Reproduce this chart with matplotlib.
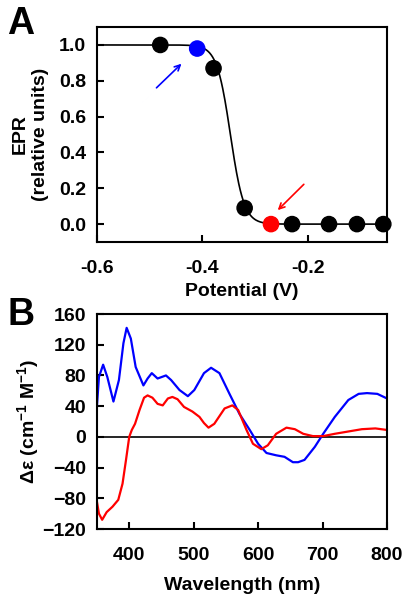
import numpy as np
import matplotlib
matplotlib.use("Agg")
import matplotlib.pyplot as plt

plt.rcParams['font.family'] = ['Liberation Sans', 'DejaVu Sans']
plt.rcParams['font.weight'] = 'bold'
plt.rcParams['mathtext.fontset'] = 'custom'
plt.rcParams['mathtext.rm'] = 'Liberation Sans:bold'
plt.rcParams['mathtext.bf'] = 'Liberation Sans:bold'
plt.rcParams['mathtext.default'] = 'bf'

# ---- panel A: EPR redox titration ----
potential = [-0.48, -0.41, -0.379, -0.32, -0.27, -0.23, -0.16, -0.107, -0.057]
epr = [1.0, 0.98, 0.87, 0.09, 0.0, 0.0, 0.0, 0.0, 0.0]
point_colors = ['black', 'blue', 'black', 'black', 'red', 'black', 'black', 'black', 'black']

# Nernst fit parameters
E0 = -0.347
n_el = 2

# ---- panel B: CD spectra ----
wl_blue = [350, 353, 359.5, 366, 375.5, 384, 391, 396, 402.5, 410, 422, 428.5, 435, 444,
           457, 465, 478, 491, 501, 516, 527, 540, 555.6, 571, 587, 600, 613, 628, 641,
           654, 662, 672, 688, 701, 719, 740, 756, 769, 785, 800]
cd_blue = [41, 78, 94, 78, 46, 74, 122, 142, 128, 91, 67, 76, 83, 76,
           80, 74, 61, 53, 61, 83, 90, 83, 56, 30, 9, -9, -21, -24, -26,
           -33, -33, -30, -13, 4, 26, 48, 56, 57, 56, 50]

wl_red = [350, 353, 358, 365, 374, 383, 389.6, 395, 400, 404, 409, 416, 423, 428.5, 436,
          444, 452, 460, 467, 475, 485, 498, 509, 516, 523, 532, 548, 560, 569, 582,
          592, 605, 615, 628, 644, 657, 670, 685, 701, 719, 740, 761, 782, 800]
cd_red = [-85, -100, -108, -98, -91, -82, -61, -30, 0, 9, 17, 35, 51, 54, 51,
          43, 41, 50, 52, 49, 39, 33, 26, 18, 12, 17, 37, 41, 35, 9,
          -9, -16, -11, 4, 12, 10, 4, 1, 1, 4, 7, 10, 11, 9]

fig = plt.figure(figsize=(4.1, 6.01), dpi=100)

axA = fig.add_axes([0.2366, 0.5973, 0.7073, 0.3577])
E = np.linspace(-0.6, -0.05, 400)
fit = 1.0 / (1.0 + np.exp((E - E0) * n_el / 0.0257))
axA.plot(E, fit, color='black', lw=1.2, zorder=2)
axA.scatter(potential, epr, c=point_colors, s=120, zorder=3, clip_on=False)
axA.annotate('', xy=(-0.436, 0.906), xytext=(-0.491, 0.75),
             arrowprops=dict(arrowstyle='->', color='blue', lw=1.2))
axA.annotate('', xy=(-0.261, 0.067), xytext=(-0.204, 0.233),
             arrowprops=dict(arrowstyle='->', color='red', lw=1.2))
axA.set_xlim(-0.6, -0.05)
axA.set_ylim(-0.1, 1.1)
axA.set_xticks([-0.6, -0.4, -0.2])
axA.set_yticks([0.0, 0.2, 0.4, 0.6, 0.8, 1.0])
axA.set_xticklabels(['-0.6', '-0.4', '-0.2'])
axA.set_yticklabels(['0.0', '0.2', '0.4', '0.6', '0.8', '1.0'])
axA.set_xlabel('Potential (V)', fontsize=14, fontweight='bold', labelpad=4)
axA.set_ylabel('EPR\n(relative units)', fontsize=14, fontweight='bold',
               linespacing=1.25, labelpad=7)
fig.text(0.018, 0.99, 'A', fontsize=27, fontweight='bold', va='top')

axB = fig.add_axes([0.2366, 0.1198, 0.7073, 0.3577])
axB.axhline(0, color='black', lw=1.2, zorder=1)
axB.plot(wl_blue, cd_blue, color='blue', lw=1.6, zorder=2)
axB.plot(wl_red, cd_red, color='red', lw=1.6, zorder=2)
axB.set_xlim(350, 800)
axB.set_ylim(-120, 160)
axB.set_xticks([400, 500, 600, 700, 800])
axB.set_yticks(range(-120, 161, 40))
axB.set_xlabel('Wavelength (nm)', fontsize=14, fontweight='bold', labelpad=9)
axB.set_ylabel(r'Δε (cm$^{-1}$ M$^{-1}$)', fontsize=14, fontweight='bold', labelpad=1)
fig.text(0.018, 0.505, 'B', fontsize=27, fontweight='bold', va='top')

for ax in (axA, axB):
    for sp in ax.spines.values():
        sp.set_linewidth(1.5)
    ax.tick_params(direction='in', width=1.5, length=5, labelsize=14)
    ax.tick_params(axis='x', pad=13)
    ax.tick_params(axis='y', pad=8)
    for lab in ax.get_xticklabels() + ax.get_yticklabels():
        lab.set_fontweight('bold')

fig.savefig('out.png', dpi=100)
